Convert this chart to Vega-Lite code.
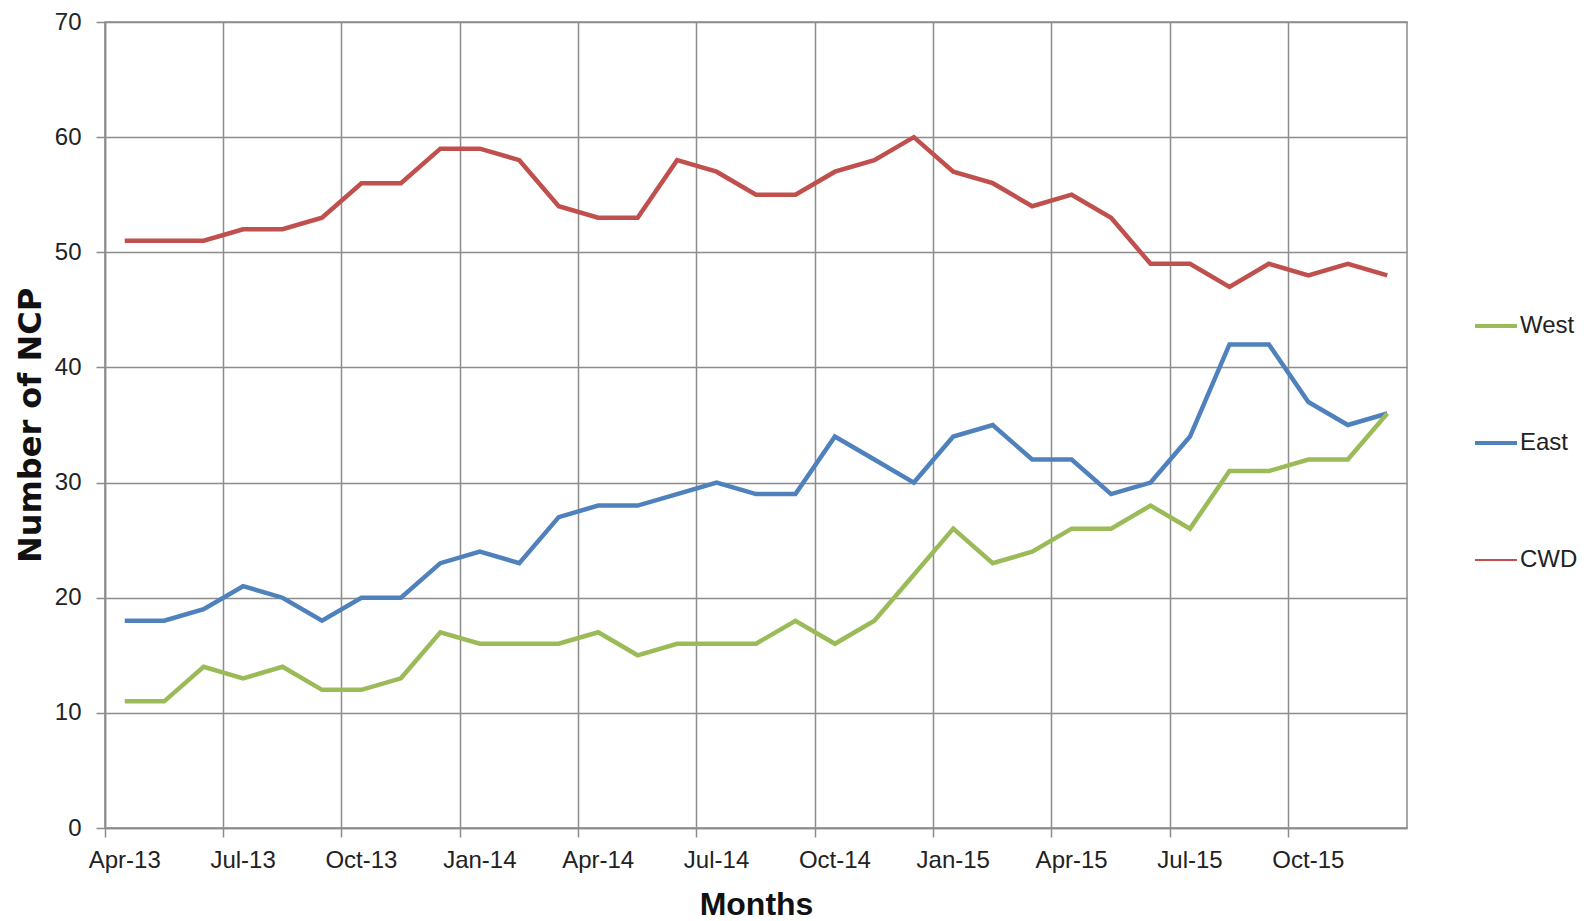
{
  "$schema": "https://vega.github.io/schema/vega-lite/v6.json",
  "width": 1302,
  "height": 806,
  "autosize": {"type": "none"},
  "padding": {"left": 105, "top": 22, "right": 186, "bottom": 93},
  "background": "white",
  "config": {
    "view": {"stroke": "#8c8c8c", "strokeWidth": 1.5},
    "font": "Liberation Sans"
  },
  "data": {
    "values": [
      {"month": "Apr-13", "West": 11, "East": 18, "CWD": 51},
      {"month": "May-13", "West": 11, "East": 18, "CWD": 51},
      {"month": "Jun-13", "West": 14, "East": 19, "CWD": 51},
      {"month": "Jul-13", "West": 13, "East": 21, "CWD": 52},
      {"month": "Aug-13", "West": 14, "East": 20, "CWD": 52},
      {"month": "Sep-13", "West": 12, "East": 18, "CWD": 53},
      {"month": "Oct-13", "West": 12, "East": 20, "CWD": 56},
      {"month": "Nov-13", "West": 13, "East": 20, "CWD": 56},
      {"month": "Dec-13", "West": 17, "East": 23, "CWD": 59},
      {"month": "Jan-14", "West": 16, "East": 24, "CWD": 59},
      {"month": "Feb-14", "West": 16, "East": 23, "CWD": 58},
      {"month": "Mar-14", "West": 16, "East": 27, "CWD": 54},
      {"month": "Apr-14", "West": 17, "East": 28, "CWD": 53},
      {"month": "May-14", "West": 15, "East": 28, "CWD": 53},
      {"month": "Jun-14", "West": 16, "East": 29, "CWD": 58},
      {"month": "Jul-14", "West": 16, "East": 30, "CWD": 57},
      {"month": "Aug-14", "West": 16, "East": 29, "CWD": 55},
      {"month": "Sep-14", "West": 18, "East": 29, "CWD": 55},
      {"month": "Oct-14", "West": 16, "East": 34, "CWD": 57},
      {"month": "Nov-14", "West": 18, "East": 32, "CWD": 58},
      {"month": "Dec-14", "West": 22, "East": 30, "CWD": 60},
      {"month": "Jan-15", "West": 26, "East": 34, "CWD": 57},
      {"month": "Feb-15", "West": 23, "East": 35, "CWD": 56},
      {"month": "Mar-15", "West": 24, "East": 32, "CWD": 54},
      {"month": "Apr-15", "West": 26, "East": 32, "CWD": 55},
      {"month": "May-15", "West": 26, "East": 29, "CWD": 53},
      {"month": "Jun-15", "West": 28, "East": 30, "CWD": 49},
      {"month": "Jul-15", "West": 26, "East": 34, "CWD": 49},
      {"month": "Aug-15", "West": 31, "East": 42, "CWD": 47},
      {"month": "Sep-15", "West": 31, "East": 42, "CWD": 49},
      {"month": "Oct-15", "West": 32, "East": 37, "CWD": 48},
      {"month": "Nov-15", "West": 32, "East": 35, "CWD": 49},
      {"month": "Dec-15", "West": 36, "East": 36, "CWD": 48}
    ]
  },
  "transform": [{"fold": ["CWD", "East", "West"], "as": ["series", "value"]}],
  "mark": {"type": "line", "strokeWidth": 4.5, "strokeJoin": "miter"},
  "encoding": {
    "x": {
      "field": "month",
      "type": "ordinal",
      "sort": null,
      "bandPosition": 0.5,
      "scale": {"type": "band", "paddingInner": 0, "paddingOuter": 0},
      "axis": {
        "title": "Months",
        "values": ["Apr-13", "Jul-13", "Oct-13", "Jan-14", "Apr-14", "Jul-14", "Oct-14", "Jan-15", "Apr-15", "Jul-15", "Oct-15"],
        "bandPosition": 0,
        "labelAngle": 0,
        "labelFont": "Liberation Sans",
        "labelFontSize": 24,
        "labelColor": "#222222",
        "labelPadding": 11,
        "tickSize": 9,
        "tickColor": "#8c8c8c",
        "tickWidth": 1.5,
        "domainColor": "#8c8c8c",
        "domainWidth": 1.5,
        "grid": true,
        "gridColor": "#8c8c8c",
        "gridWidth": 1.5,
        "titleFont": "Liberation Sans",
        "titleFontSize": 32,
        "titleFontWeight": "bold",
        "titleColor": "#111111",
        "titlePadding": 17
      }
    },
    "y": {
      "field": "value",
      "type": "quantitative",
      "scale": {"domain": [0, 70], "nice": false, "zero": true},
      "axis": {
        "title": "Number of NCP",
        "values": [0, 10, 20, 30, 40, 50, 60, 70],
        "labelFont": "Liberation Sans",
        "labelFontSize": 24,
        "labelColor": "#222222",
        "labelPadding": 15,
        "tickSize": 9,
        "tickColor": "#8c8c8c",
        "tickWidth": 1.5,
        "domainColor": "#8c8c8c",
        "domainWidth": 1.5,
        "grid": true,
        "gridColor": "#8c8c8c",
        "gridWidth": 1.5,
        "titleFont": "DejaVu Sans",
        "titleFontSize": 32,
        "titleFontWeight": "bold",
        "titleColor": "#111111",
        "titlePadding": 7
      }
    },
    "color": {
      "field": "series",
      "type": "nominal",
      "scale": {"domain": ["West", "East", "CWD"], "range": ["#9BBB59", "#4F81BD", "#C0504D"]},
      "legend": {
        "title": null,
        "orient": "none",
        "legendX": 1379,
        "legendY": 292,
        "symbolType": "stroke",
        "symbolSize": 1764,
        "symbolStrokeWidth": 4,
        "labelFont": "Liberation Sans",
        "labelFontSize": 24,
        "labelColor": "#222222",
        "labelOffset": 12,
        "rowPadding": 93,
        "encode": {
          "symbols": {"update": {"strokeWidth": {"signal": "datum.value === 'CWD' ? 2 : 4"}}}
        }
      }
    }
  }
}
